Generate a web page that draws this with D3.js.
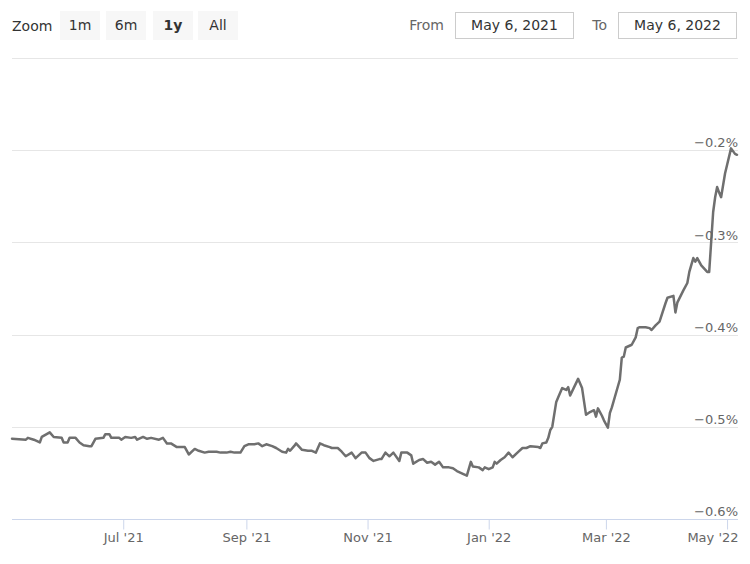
<!DOCTYPE html>
<html>
<head>
<meta charset="utf-8">
<script src="https://cdn.jsdelivr.net/npm/d3@7/dist/d3.min.js"></script>
<style>
  html, body { margin: 0; padding: 0; background: #fff; }
  svg { display: block; }
  text { font-family: "DejaVu Sans", Verdana, sans-serif; }
</style>
</head>
<body>
<svg id="chart" width="750" height="564"></svg>
<script>
const zoomButtons = ["1m", "6m", "1y", "All"];
const selectedButton = "1y";
const rangeFrom = "May 6, 2021";
const rangeTo = "May 6, 2022";
const xTickDates = ["2021-07-01", "2021-09-01", "2021-11-01", "2022-01-01", "2022-03-01", "2022-05-01"];
const xTickLabels = ["Jul '21", "Sep '21", "Nov '21", "Jan '22", "Mar '22", "May '22"];
const yTicks = [-0.6, -0.5, -0.4, -0.3, -0.2, -0.1];
const yTickLabels = ["−0.6%", "−0.5%", "−0.4%", "−0.3%", "−0.2%", ""];

const dates = [
  "2021-05-06","2021-05-13","2021-05-14","2021-05-17","2021-05-20","2021-05-21","2021-05-25","2021-05-27","2021-05-31",
  "2021-06-01","2021-06-03","2021-06-04","2021-06-07","2021-06-09","2021-06-11","2021-06-14","2021-06-15","2021-06-17",
  "2021-06-21","2021-06-22","2021-06-24","2021-06-25","2021-06-29","2021-06-30","2021-07-02","2021-07-05","2021-07-07",
  "2021-07-08","2021-07-11","2021-07-13","2021-07-15","2021-07-19","2021-07-21","2021-07-23","2021-07-25","2021-07-28",
  "2021-08-01","2021-08-03","2021-08-06","2021-08-08","2021-08-11","2021-08-13","2021-08-17","2021-08-19","2021-08-22",
  "2021-08-24","2021-08-26","2021-08-29","2021-08-31","2021-09-02","2021-09-05","2021-09-07","2021-09-09","2021-09-11",
  "2021-09-14","2021-09-16","2021-09-19","2021-09-21","2021-09-22","2021-09-23","2021-09-25","2021-09-26","2021-09-29",
  "2021-10-02","2021-10-04","2021-10-06","2021-10-08","2021-10-10","2021-10-13","2021-10-14","2021-10-17","2021-10-19",
  "2021-10-21","2021-10-24","2021-10-26","2021-10-29","2021-10-31","2021-11-02","2021-11-04","2021-11-07","2021-11-08",
  "2021-11-10","2021-11-12","2021-11-14","2021-11-17","2021-11-18","2021-11-21","2021-11-23","2021-11-24","2021-11-27",
  "2021-11-29","2021-12-01","2021-12-03","2021-12-05","2021-12-07","2021-12-08","2021-12-09","2021-12-12","2021-12-14",
  "2021-12-16","2021-12-19","2021-12-21","2021-12-23","2021-12-24","2021-12-27","2021-12-29","2021-12-30","2022-01-01",
  "2022-01-03","2022-01-04","2022-01-05","2022-01-07","2022-01-09","2022-01-11","2022-01-13","2022-01-16","2022-01-18",
  "2022-01-20","2022-01-22","2022-01-26","2022-01-27","2022-01-28","2022-01-30","2022-01-31","2022-02-01","2022-02-02",
  "2022-02-04","2022-02-05","2022-02-07","2022-02-09","2022-02-10","2022-02-11","2022-02-13","2022-02-15","2022-02-17",
  "2022-02-19","2022-02-21","2022-02-23","2022-02-24","2022-02-25","2022-02-27","2022-02-28","2022-03-02","2022-03-03",
  "2022-03-04","2022-03-08","2022-03-09","2022-03-10","2022-03-11","2022-03-14","2022-03-16","2022-03-17","2022-03-18",
  "2022-03-21","2022-03-23","2022-03-24","2022-03-26","2022-03-28","2022-03-31","2022-04-01","2022-04-04","2022-04-05",
  "2022-04-06","2022-04-09","2022-04-11","2022-04-12","2022-04-14","2022-04-15","2022-04-16","2022-04-18","2022-04-21",
  "2022-04-22","2022-04-24","2022-04-25","2022-04-26","2022-04-27","2022-04-28","2022-04-30","2022-05-01","2022-05-03",
  "2022-05-05","2022-05-06"
];
const values = [
  -0.513,-0.514,-0.512,-0.514,-0.517,-0.511,-0.506,-0.511,-0.512,
  -0.517,-0.517,-0.512,-0.512,-0.517,-0.520,-0.521,-0.521,-0.513,
  -0.512,-0.508,-0.508,-0.512,-0.512,-0.514,-0.511,-0.512,-0.511,
  -0.514,-0.511,-0.513,-0.512,-0.514,-0.512,-0.518,-0.518,-0.522,
  -0.522,-0.530,-0.524,-0.526,-0.528,-0.527,-0.527,-0.528,-0.528,
  -0.527,-0.528,-0.528,-0.521,-0.519,-0.519,-0.518,-0.521,-0.519,
  -0.521,-0.523,-0.527,-0.528,-0.524,-0.526,-0.521,-0.518,-0.525,
  -0.526,-0.526,-0.528,-0.518,-0.520,-0.522,-0.523,-0.523,-0.527,
  -0.532,-0.528,-0.534,-0.528,-0.528,-0.534,-0.537,-0.535,-0.535,
  -0.528,-0.532,-0.528,-0.537,-0.528,-0.528,-0.531,-0.540,-0.536,
  -0.535,-0.539,-0.538,-0.541,-0.538,-0.541,-0.544,-0.544,-0.545,
  -0.548,-0.551,-0.553,-0.538,-0.543,-0.544,-0.547,-0.544,-0.546,
  -0.544,-0.538,-0.540,-0.536,-0.533,-0.528,-0.533,-0.527,-0.523,
  -0.523,-0.521,-0.522,-0.523,-0.518,-0.517,-0.512,-0.5035,-0.500,
  -0.473,-0.468,-0.458,-0.460,-0.457,-0.466,-0.457,-0.448,-0.458,
  -0.487,-0.484,-0.482,-0.489,-0.480,-0.488,-0.493,-0.501,-0.485,
  -0.479,-0.449,-0.425,-0.424,-0.414,-0.411,-0.403,-0.393,-0.392,
  -0.392,-0.393,-0.395,-0.390,-0.386,-0.366,-0.360,-0.358,-0.376,
  -0.365,-0.352,-0.344,-0.332,-0.317,-0.321,-0.317,-0.325,-0.332,
  -0.332,-0.267,-0.251,-0.240,-0.246,-0.251,-0.225,-0.216,-0.198,
  -0.204,-0.205
];

const parse = d3.timeParse("%Y-%m-%d");
const data = dates.map((d, i) => ({ date: parse(d), value: values[i] }));

const svg = d3.select("#chart");
const plotLeft = 12, plotRight = 737, plotTop = 58, plotBottom = 519;

const x = d3.scaleTime()
  .domain([parse("2021-05-06"), parse("2022-05-06")])
  .range([plotLeft, plotRight]);
const y = d3.scaleLinear().domain([-0.6, -0.1]).range([plotBottom, plotTop]);

// Range selector
svg.append("text").attr("x", 12).attr("y", 31).attr("font-size", 14).attr("fill", "#333").text("Zoom");
const btnX = [60, 106, 153, 198];
zoomButtons.forEach((b, i) => {
  const g = svg.append("g").attr("transform", `translate(${btnX[i]},11)`);
  g.append("rect").attr("width", 40).attr("height", 29).attr("fill", "#f7f7f7");
  g.append("text").attr("x", 20).attr("y", 19).attr("text-anchor", "middle")
    .attr("font-size", 14).attr("fill", "#333")
    .attr("font-weight", b === selectedButton ? "bold" : "normal").text(b);
});

svg.append("text").attr("x", 444).attr("y", 30).attr("text-anchor", "end")
  .attr("font-size", 14).attr("fill", "#666").text("From");
svg.append("rect").attr("x", 455.5).attr("y", 12.5).attr("width", 118).attr("height", 26)
  .attr("fill", "#fff").attr("stroke", "#ccc");
svg.append("text").attr("x", 514.5).attr("y", 30).attr("text-anchor", "middle")
  .attr("font-size", 14).attr("fill", "#333").text(rangeFrom);
svg.append("text").attr("x", 607).attr("y", 30).attr("text-anchor", "end")
  .attr("font-size", 14).attr("fill", "#666").text("To");
svg.append("rect").attr("x", 618.5).attr("y", 12.5).attr("width", 118).attr("height", 26)
  .attr("fill", "#fff").attr("stroke", "#ccc");
svg.append("text").attr("x", 677.5).attr("y", 30).attr("text-anchor", "middle")
  .attr("font-size", 14).attr("fill", "#333").text(rangeTo);

// Gridlines
svg.append("g").selectAll("line").data(yTicks.filter(t => t !== -0.6)).join("line")
  .attr("x1", plotLeft).attr("x2", 738)
  .attr("y1", d => Math.round(y(d)) + 0.5).attr("y2", d => Math.round(y(d)) + 0.5)
  .attr("stroke", "#e6e6e6").attr("stroke-width", 1);

// X axis
const xAxis = d3.axisBottom(x)
  .tickValues(xTickDates.map(parse))
  .tickFormat((d, i) => xTickLabels[i])
  .tickSize(10).tickSizeOuter(0);
const gx = svg.append("g").attr("transform", `translate(0,${plotBottom + 0.5})`).call(xAxis);
gx.select(".domain").attr("d", `M${plotLeft},0H738`).attr("stroke", "#ccd6eb");
gx.selectAll(".tick line").attr("stroke", "#ccd6eb");
gx.selectAll(".tick text").attr("font-size", 13).attr("fill", "#666")
  .attr("font-family", "DejaVu Sans, Verdana, sans-serif").attr("dy", "0.71em");
// keep the last label inside the chart, like the reference
gx.selectAll(".tick").filter((d, i, n) => i === n.length - 1).select("text")
  .attr("text-anchor", "end")
  .attr("x", d => 738 - x(d));

// Line
const line = d3.line().x(d => x(d.date)).y(d => y(d.value)).curve(d3.curveLinear);
svg.append("path").datum(data).attr("d", line)
  .attr("fill", "none").attr("stroke", "#6f6f6f").attr("stroke-width", 2.5)
  .attr("stroke-linejoin", "round").attr("stroke-linecap", "round");

// Y labels (right, above gridlines)
const yAxis = d3.axisRight(y).tickValues(yTicks.slice(0, 5))
  .tickFormat((d, i) => yTickLabels[i]).tickSize(0);
const gy = svg.append("g").attr("transform", `translate(738,0)`).call(yAxis);
gy.select(".domain").remove();
gy.selectAll(".tick text").attr("text-anchor", "end").attr("x", 0).attr("dy", "-0.25em")
  .attr("font-size", 13).attr("fill", "#666")
  .attr("font-family", "DejaVu Sans, Verdana, sans-serif");
</script>
</body>
</html>
